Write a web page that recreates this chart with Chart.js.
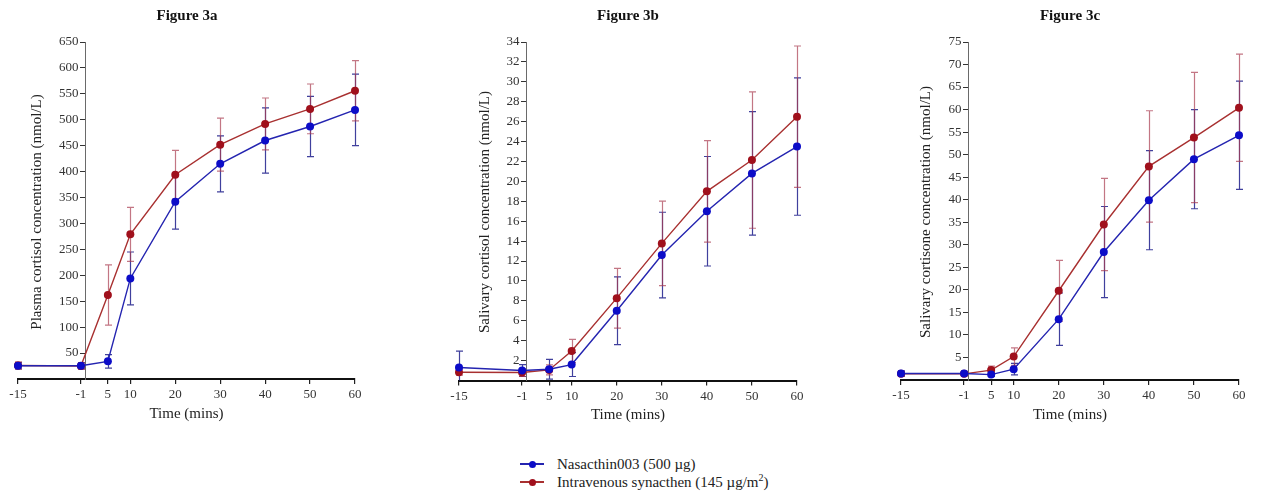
<!DOCTYPE html>
<html>
<head>
<meta charset="utf-8">
<script src="https://cdn.jsdelivr.net/npm/chart.js@4.4.0/dist/chart.umd.min.js"></script>
<style>
  html, body { margin: 0; padding: 0; background: #fff; }
  body { width: 1262px; height: 497px; position: relative; overflow: hidden;
         font-family: "Liberation Serif", "Times New Roman", serif; }
  .panel { position: absolute; top: 0; height: 440px; }
  .panel canvas { display: block; }
  .legend { position: absolute; left: 520px; top: 455px; font-size: 15px; color: #222; }
  .row { position: relative; height: 18px; line-height: 18px; white-space: nowrap; width: 260px; }
  .mk { position: absolute; left: 0; top: 8px; width: 24px; height: 2px; }
  .mk i { position: absolute; left: 8.5px; top: -2.5px; width: 7px; height: 7px; border-radius: 50%; }
  .row span { position: absolute; left: 37px; top: 0; }
  sup { font-size: 10px; line-height: 0; }
</style>
</head>
<body>
<div class="panel" style="left:0;width:410px"><canvas id="figA" width="410" height="440"></canvas></div>
<div class="panel" style="left:420px;width:420px"><canvas id="figB" width="420" height="440"></canvas></div>
<div class="panel" style="left:840px;width:422px"><canvas id="figC" width="422" height="440"></canvas></div>

<div class="legend">
  <div class="row"><div class="mk" style="background:#2424b0"><i style="background:#0c0cc8"></i></div><span>Nasacthin003 (500 µg)</span></div>
  <div class="row"><div class="mk" style="background:#a83030"><i style="background:#a0101c"></i></div><span>Intravenous synacthen (145 µg/m<sup>2</sup>)</span></div>
</div>

<script>
// Sampling times (minutes relative to dose)
const timePoints = [-15, -1, 5, 10, 20, 30, 40, 50, 60];
const timeTickLabels = [-15, -1, 5, 10, 20, 30, 40, 50, 60];

// Series names
const seriesNames = ['Nasacthin003 (500 µg)', 'Intravenous synacthen (145 µg/m²)'];

// Figure 3a: plasma cortisol (nmol/L), mean and SD
const plasmaNasal   = [25.5, 25.5, 34, 194, 342, 415, 460, 487, 519];
const plasmaNasalSD = [6, 6, 13, 51, 53, 54, 63, 58, 69];
const plasmaIV      = [26, 25, 162, 279, 394, 452, 492, 521, 556];
const plasmaIVSD    = [7, 6, 58, 52, 47, 51, 50, 48, 58];

// Figure 3b: salivary cortisol (nmol/L), mean and SD
const salCortisolNasal   = [1.3, 1.0, 1.13, 1.6, 7.0, 12.6, 17.0, 20.8, 23.5];
const salCortisolNasalSD = [1.65, 0.6, 1.0, 1.2, 3.4, 4.3, 5.5, 6.2, 6.9];
const salCortisolIV      = [0.83, 0.8, 1.06, 2.97, 8.27, 13.77, 19.0, 22.14, 26.5];
const salCortisolIVSD    = [0.3, 0.4, 0.5, 1.17, 3.0, 4.25, 5.1, 6.85, 7.1];

// Figure 3c: salivary cortisone (nmol/L), mean and SD
const salCortisoneNasal   = [1.44, 1.44, 1.2, 2.4, 13.5, 28.4, 39.9, 49.0, 54.3];
const salCortisoneNasalSD = [0.6, 0.5, 0.4, 1.27, 5.8, 10.1, 11.0, 11.0, 12.0];
const salCortisoneIV      = [1.37, 1.37, 2.2, 5.2, 19.8, 34.5, 47.4, 53.8, 60.4];
const salCortisoneIVSD    = [0.5, 0.4, 0.9, 1.95, 6.76, 10.25, 12.35, 14.45, 11.9];

const SERIF = '"Liberation Serif", "Times New Roman", serif';
Chart.defaults.font.family = SERIF;

const lineColors  = ['#2424b0', '#a83030'];
const pointColors = ['#0c0cc8', '#a0101c'];
const errColors   = ['rgba(30,30,140,0.85)', 'rgba(170,60,80,0.7)'];

// Linear scale whose tick labels sit left of the tick marks when the axis
// crosses the chart at x = 0 instead of sitting on the chart edge.
class CrossingLinearScale extends Chart.LinearScale {
  _computeLabelItems(chartArea) {
    const items = super._computeLabelItems(chartArea);
    const shift = this.options.grid.tickLength + this.options.ticks.padding;
    items.forEach((it) => { it.options.translation[0] -= shift; });
    return items;
  }
}
CrossingLinearScale.id = 'crossingLinear';
CrossingLinearScale.defaults = Chart.LinearScale.defaults;
Chart.register(CrossingLinearScale);

// Error bars, figure title and rotated y-axis title
const panelDecor = {
  id: 'panelDecor',
  beforeDatasetsDraw(chart, args, opts) {
    const { ctx, chartArea, scales: { x, y } } = chart;
    ctx.save();
    ctx.beginPath();
    ctx.rect(chartArea.left - 10, chartArea.top - 10, chartArea.width + 20, chartArea.bottom - chartArea.top + 10);
    ctx.clip();
    ctx.lineWidth = 1.2;
    chart.data.datasets.forEach((ds, i) => {
      const sd = opts.errors[i];
      ctx.strokeStyle = errColors[i];
      ds.data.forEach((p, j) => {
        const px = Math.round(x.getPixelForValue(p.x)) + 0.5;
        const yt = y.getPixelForValue(p.y + sd[j]);
        const yb = y.getPixelForValue(p.y - sd[j]);
        ctx.beginPath();
        ctx.moveTo(px, yt); ctx.lineTo(px, yb);
        ctx.moveTo(px - 3.5, yt); ctx.lineTo(px + 3.5, yt);
        ctx.moveTo(px - 3.5, yb); ctx.lineTo(px + 3.5, yb);
        ctx.stroke();
      });
    });
    ctx.restore();
  },
  afterDraw(chart, args, opts) {
    const { ctx } = chart;
    ctx.save();
    ctx.fillStyle = '#111';
    ctx.textAlign = 'center';
    ctx.textBaseline = 'middle';
    ctx.font = 'bold 15px ' + SERIF;
    ctx.fillText(opts.title, opts.titleX, 16);
    ctx.fillStyle = '#222';
    ctx.font = '15px ' + SERIF;
    ctx.translate(opts.yTitleX, 212);
    ctx.rotate(-Math.PI / 2);
    ctx.fillText(opts.yTitle, 0, 0);
    ctx.restore();
  }
};

function toPoints(values) {
  return values.map((v, i) => ({ x: timePoints[i], y: v }));
}

function makePanel(id, spec) {
  const datasets = [spec.nasal, spec.iv].map((vals, i) => ({
    label: seriesNames[i],
    data: toPoints(vals),
    borderColor: lineColors[i],
    backgroundColor: pointColors[i],
    pointBackgroundColor: pointColors[i],
    pointBorderColor: pointColors[i],
    pointRadius: 4,
    pointBorderWidth: 0,
    borderWidth: 1.4,
    tension: 0,
    clip: false
  }));
  return new Chart(document.getElementById(id), {
    type: 'line',
    data: { datasets },
    options: {
      responsive: false,
      animation: false,
      events: [],
      layout: { padding: spec.padding },
      plugins: {
        legend: { display: false },
        tooltip: { enabled: false },
        panelDecor: {
          title: spec.title, titleX: spec.titleX,
          yTitle: spec.yTitle, yTitleX: spec.yTitleX,
          errors: [spec.nasalSD, spec.ivSD]
        }
      },
      scales: {
        x: {
          type: 'linear',
          position: 'bottom',
          min: -15, max: 60,
          afterBuildTicks: (scale) => { scale.ticks = timeTickLabels.map(v => ({ value: v })); },
          afterFit: (scale) => { scale.height = 46; },
          ticks: { autoSkip: false, maxRotation: 0, padding: 3, color: '#333',
                   font: { size: 13 }, callback: (v) => String(v) },
          grid: { drawOnChartArea: false, drawTicks: true, tickLength: 5, color: '#222', lineWidth: 1.2 },
          border: { color: '#111', width: 2 },
          title: { display: true, text: 'Time (mins)', color: '#222', font: { size: 15 }, padding: { top: 0, bottom: 2 } }
        },
        y: {
          type: 'crossingLinear',
          position: { x: 0 },
          min: 0, max: spec.yMax,
          ticks: { stepSize: spec.yStep, color: '#333', font: { size: 13 }, padding: 2,
                   callback: (v) => (v === 0 ? '' : String(v)) },
          grid: { drawOnChartArea: false, drawTicks: true, tickLength: 5, color: '#333', lineWidth: 1 },
          border: { color: '#6a6a6a', width: 1 }
        }
      }
    },
    plugins: [panelDecor]
  });
}

makePanel('figA', {
  title: 'Figure 3a', titleX: 187,
  yTitle: 'Plasma cortisol concentration (nmol/L)', yTitleX: 37,
  nasal: plasmaNasal, nasalSD: plasmaNasalSD, iv: plasmaIV, ivSD: plasmaIVSD,
  yMax: 650, yStep: 50,
  padding: { left: 18, right: 55, top: 42, bottom: 15 }
});

makePanel('figB', {
  title: 'Figure 3b', titleX: 208,
  yTitle: 'Salivary cortisol concentration (nmol/L)', yTitleX: 65,
  nasal: salCortisolNasal, nasalSD: salCortisolNasalSD, iv: salCortisolIV, ivSD: salCortisolIVSD,
  yMax: 34, yStep: 2,
  padding: { left: 39, right: 43, top: 42, bottom: 13.5 }
});

makePanel('figC', {
  title: 'Figure 3c', titleX: 230,
  yTitle: 'Salivary cortisone concentration (nmol/L)', yTitleX: 86,
  nasal: salCortisoneNasal, nasalSD: salCortisoneNasalSD, iv: salCortisoneIV, ivSD: salCortisoneIVSD,
  yMax: 75, yStep: 5,
  padding: { left: 61, right: 23, top: 42, bottom: 14 }
});
</script>
</body>
</html>
